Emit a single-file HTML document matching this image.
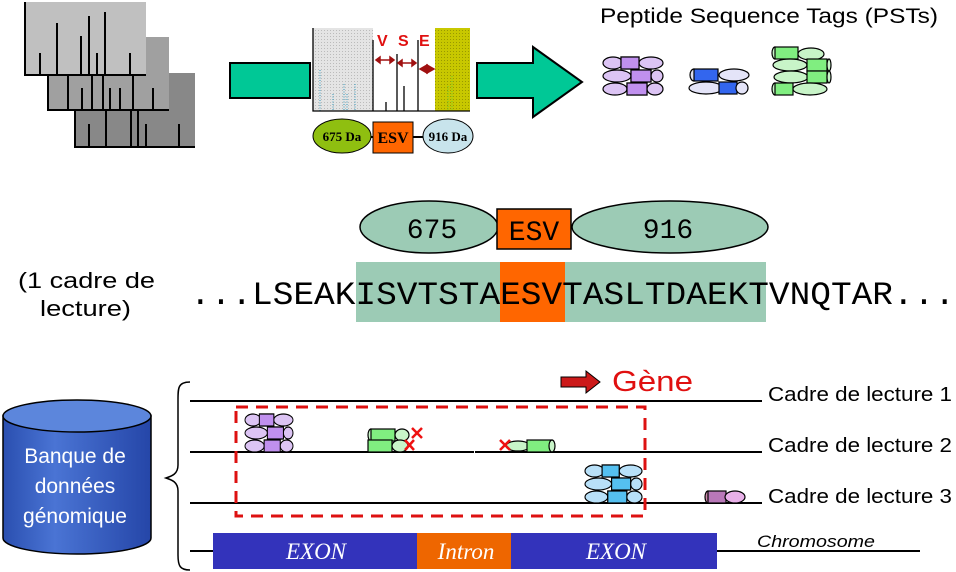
<!DOCTYPE html>
<html><head><meta charset="utf-8"><style>
html,body{margin:0;padding:0;background:#fff;}
svg{display:block;}
text{font-family:"Liberation Sans",sans-serif;}
</style></head><body>
<svg width="956" height="572" viewBox="0 0 956 572" xmlns="http://www.w3.org/2000/svg">
<defs>
<linearGradient id="cyl" x1="0" x2="1">
<stop offset="0" stop-color="#2a4fb0"/><stop offset="0.35" stop-color="#4a74d4"/><stop offset="1" stop-color="#2546a8"/></linearGradient>
<pattern id="dots" width="3" height="3" patternUnits="userSpaceOnUse"><rect width="3" height="3" fill="#e4e4e4"/><rect width="1" height="1" fill="#bbb"/></pattern>
<pattern id="ydots" width="3" height="3" patternUnits="userSpaceOnUse"><rect width="3" height="3" fill="#c8c800"/><rect width="1" height="1" fill="#999900"/></pattern>
<g id="grp3" stroke="#000" stroke-width="1.2">
 <ellipse cx="10" cy="6" rx="10" ry="6"/><rect x="18" y="0" width="18" height="12"/><ellipse cx="48" cy="6" rx="12" ry="6"/>
 <ellipse cx="14" cy="19" rx="14" ry="6"/><rect x="28" y="13" width="20" height="12"/><ellipse cx="54" cy="19" rx="6" ry="6"/>
 <ellipse cx="12" cy="32" rx="12" ry="6"/><rect x="24" y="26" width="20" height="12"/><ellipse cx="52" cy="32" rx="8" ry="6"/>
</g>
</defs>

<!-- spectra stacks -->
<rect x="75" y="73" width="120" height="74" fill="#888"/>
<rect x="48" y="37" width="121" height="73" fill="#a0a0a0"/>
<rect x="25" y="2" width="121" height="73" fill="#c0c0c0"/>
<g stroke="#000" stroke-width="2" fill="none">
<path d="M25 2V75H146 M48 75V110H169 M75 110V147H195"/>
<path d="M40 53V75 M57 23V75 M81 36V75 M89 16V75 M97 53V75 M105 12V75 M130 53V75"/>
<path d="M68 75V110 M82 88V110 M92 75V110 M103 75V110 M110 88V110 M120 88V110 M133 75V110 M153 88V110"/>
<path d="M89 124V147 M106 110V147 M131 110V147 M138 110V147 M146 124V147 M179 124V147"/>
</g>

<!-- middle top spectrum -->
<rect x="230" y="63" width="80" height="35" fill="#00c896" stroke="#000" stroke-width="2"/>
<rect x="313" y="28" width="60" height="83" fill="url(#dots)"/>
<rect x="435" y="28" width="35" height="83" fill="url(#ydots)"/>
<g stroke="#39b" stroke-width="1" stroke-dasharray="1,1.5">
<path d="M320 70V111 M333 94V111 M347 94V111 M355 84V111 M344 84V111"/></g>
<g stroke="#6c3" stroke-width="1" stroke-dasharray="1,1.5"><path d="M448 86V111 M452 76V111"/></g>
<g stroke="#000" stroke-width="1.3" fill="none">
<path d="M313 28V111H470 M373 40V111 M397 54V111 M418 40V111 M386 102V111 M404 86V111"/></g>
<g fill="#a01010" stroke="#a01010" stroke-width="1.5">
<path d="M376 60H394 M376 60l4-3v6z M394 60l-4-3v6z"/>
<path d="M398 63H416 M398 63l4-3v6z M416 63l-4-3v6z"/>
<path d="M420 69H434 M420 69l7-4v8z M434 69l-7-4v8z"/></g>
<g fill="#e01010" font-weight="bold" font-size="16"><text x="377" y="46">V</text><text x="398" y="46">S</text><text x="419" y="46">E</text></g>
<path d="M370 137H424" stroke="#000" stroke-width="2"/>
<ellipse cx="342" cy="136" rx="29" ry="17" fill="#8fbf10" stroke="#000"/>
<rect x="373" y="122" width="40" height="31" fill="#ff6600" stroke="#000"/>
<ellipse cx="448" cy="136" rx="25" ry="17" fill="#c8e4ec" stroke="#000"/>
<g font-weight="bold" text-anchor="middle">
<text x="342" y="141" font-size="13" style="font-family:'Liberation Serif',serif">675 Da</text>
<text x="393" y="143" font-size="16" style="font-family:'Liberation Serif',serif">ESV</text>
<text x="448" y="141" font-size="13" style="font-family:'Liberation Serif',serif">916 Da</text></g>
<!-- big arrow -->
<path d="M477 63H533V47L582 82L533 117V98H477Z" fill="#00c896" stroke="#000" stroke-width="2"/>

<text x="600" y="23" font-size="21" textLength="338" lengthAdjust="spacingAndGlyphs">Peptide Sequence Tags (PSTs)</text>
<g transform="translate(603,57)" fill="#dcc4f4"><use href="#grp3"/></g>
<g transform="translate(603,57)" fill="#c090ee" stroke="#000" stroke-width="1.2"><rect x="18" y="0" width="18" height="12"/><rect x="28" y="13" width="20" height="12"/><rect x="24" y="26" width="20" height="12"/></g>
<!-- blue pst -->
<g stroke="#000" stroke-width="1.2">
<ellipse cx="694" cy="75" rx="4" ry="6" fill="#dde"/><rect x="694" y="69" width="24" height="12" fill="#3366ee"/><ellipse cx="734" cy="75" rx="15" ry="6" fill="#e4e4f8"/>
<ellipse cx="706" cy="88" rx="17" ry="6" fill="#e4e4f8"/><rect x="719" y="82" width="18" height="12" fill="#3366ee"/><ellipse cx="742" cy="88" rx="6" ry="6" fill="#e4e4f8"/></g>
<!-- green pst -->
<g stroke="#000" stroke-width="1.2" fill="#c8f4c8">
<ellipse cx="775" cy="53" rx="3" ry="6"/><rect x="775" y="47" width="23" height="12" fill="#80ee80"/><ellipse cx="811" cy="54" rx="13" ry="6"/>
<ellipse cx="790" cy="65" rx="17" ry="6"/><rect x="807" y="59" width="20" height="12" fill="#80ee80"/><ellipse cx="829" cy="65" rx="2" ry="6"/>
<ellipse cx="791" cy="77" rx="17" ry="6"/><rect x="807" y="71" width="20" height="12" fill="#80ee80"/><ellipse cx="829" cy="77" rx="2" ry="6"/>
<ellipse cx="775" cy="89" rx="3" ry="6"/><rect x="775" y="83" width="18" height="12" fill="#80ee80"/><ellipse cx="810" cy="89" rx="17" ry="6"/></g>

<!-- middle section -->
<ellipse cx="429" cy="227" rx="69" ry="26" fill="#9ccbb5" stroke="#000" stroke-width="1.5"/>
<ellipse cx="670" cy="227" rx="98" ry="26" fill="#9ccbb5" stroke="#000" stroke-width="1.5"/>
<rect x="497" y="209" width="74" height="40" fill="#ff6600" stroke="#000" stroke-width="1.5"/>
<g font-size="28" text-anchor="middle">
<text x="432" y="238" style="font-family:'Liberation Mono',monospace">675</text>
<text x="534" y="240" style="font-family:'Liberation Mono',monospace">ESV</text>
<text x="668" y="238" style="font-family:'Liberation Mono',monospace">916</text></g>
<rect x="356" y="262" width="410" height="60" fill="#9ccbb5"/>
<rect x="500" y="262" width="65" height="60" fill="#ff6600"/>
<text x="190" y="304" font-size="32" textLength="765" lengthAdjust="spacingAndGlyphs" style="font-family:'Liberation Mono',monospace">...LSEAKISVTSTAESVTASLTDAEKTVNQTAR...</text>
<text x="18" y="288" font-size="22" textLength="137" lengthAdjust="spacingAndGlyphs">(1 cadre de</text>
<text x="40" y="316" font-size="22" textLength="91" lengthAdjust="spacingAndGlyphs">lecture)</text>

<!-- bottom: cylinder -->
<path d="M3 416V538A74 16 0 0 0 151 538V416Z" fill="url(#cyl)" stroke="#000" stroke-width="1.5"/>
<ellipse cx="77" cy="416" rx="74" ry="16" fill="#5c86dc" stroke="#000" stroke-width="1.5"/>
<g fill="#fff" font-size="21" text-anchor="middle"><text x="75" y="463">Banque de</text><text x="75" y="493">données</text><text x="75" y="523">génomique</text></g>
<!-- brace -->
<path d="M190 382C178 382 178 388 178 400V465C178 474 172 476 166 478C172 480 178 482 178 491V555C178 566 180 570 190 570" fill="none" stroke="#000" stroke-width="1.5"/>
<g stroke="#000" stroke-width="2">
<path d="M190 401H762 M190 452H762 M190 503H762 M190 551H920"/></g>
<rect x="441" y="448" width="34" height="6" fill="#fff"/><rect x="441" y="451" width="33" height="2" fill="#000"/>
<rect x="236" y="407" width="409" height="109" fill="none" stroke="#dd1111" stroke-width="3" stroke-dasharray="12,8"/>
<!-- gene arrow -->
<path d="M561 377H586V371L600 382L586 393V387H561Z" fill="#cc1a1a" stroke="#000" stroke-width="1"/>
<text x="612" y="391" font-size="29" fill="#e01010" textLength="81" lengthAdjust="spacingAndGlyphs">Gène</text>
<g font-size="20"><text x="768" y="401" textLength="184" lengthAdjust="spacingAndGlyphs">Cadre de lecture 1</text><text x="768" y="452" textLength="184" lengthAdjust="spacingAndGlyphs">Cadre de lecture 2</text><text x="768" y="503" textLength="184" lengthAdjust="spacingAndGlyphs">Cadre de lecture 3</text></g>
<!-- frame2 psts -->
<g transform="translate(245,414) scale(0.8,1)" fill="#dcc4f4"><use href="#grp3"/></g>
<g transform="translate(245,414) scale(0.8,1)" fill="#c090ee" stroke="#000" stroke-width="1.2"><rect x="18" y="0" width="18" height="12"/><rect x="28" y="13" width="20" height="12"/><rect x="24" y="26" width="20" height="12"/></g>
<g stroke="#000" stroke-width="1.2" fill="#c8f4c8">
<ellipse cx="371" cy="435" rx="3" ry="6"/><rect x="371" y="429" width="24" height="12" fill="#80ee80"/><ellipse cx="402" cy="435" rx="7" ry="6"/>
<rect x="368" y="440" width="24" height="12" fill="#80ee80"/><ellipse cx="400" cy="446" rx="8" ry="6"/>
<ellipse cx="518" cy="446" rx="12" ry="5"/><rect x="527" y="440" width="25" height="12" fill="#80ee80"/><ellipse cx="552" cy="446" rx="3" ry="6"/></g>
<g stroke="#ee1111" stroke-width="2.5">
<path d="M412 428l10 10 M422 428l-10 10 M405 440l9 10 M414 440l-9 10 M500 440l10 10 M510 440l-10 10"/></g>
<!-- frame3 psts -->
<g transform="translate(585,465) scale(0.95,1)" fill="#b8e0f8"><use href="#grp3"/></g>
<g transform="translate(585,465) scale(0.95,1)" fill="#55c0f0" stroke="#000" stroke-width="1.2"><rect x="18" y="0" width="18" height="12"/><rect x="28" y="13" width="20" height="12"/><rect x="24" y="26" width="20" height="12"/></g>
<g stroke="#000" stroke-width="1.2"><ellipse cx="708" cy="497" rx="3" ry="6" fill="#c8a"/><rect x="708" y="491" width="18" height="12" fill="#b878b8"/><ellipse cx="735" cy="497" rx="10" ry="6" fill="#e8b0e8"/></g>
<!-- chromosome -->
<rect x="213" y="533" width="504" height="36" fill="#3333bb"/>
<rect x="417" y="533" width="94" height="36" fill="#ee6600"/>
<g fill="#fff" font-style="italic" font-size="23" text-anchor="middle">
<text x="316" y="559" style="font-family:'Liberation Serif',serif">EXON</text>
<text x="466" y="559" style="font-family:'Liberation Serif',serif">Intron</text>
<text x="616" y="559" style="font-family:'Liberation Serif',serif">EXON</text></g>
<text x="757" y="547" font-size="17" font-style="italic" textLength="118" lengthAdjust="spacingAndGlyphs">Chromosome</text>
</svg>
</body></html>
